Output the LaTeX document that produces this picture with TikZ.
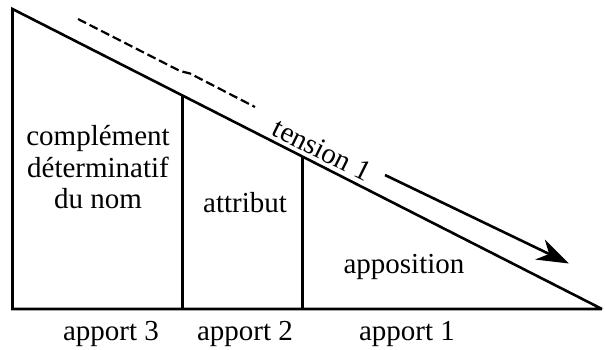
\documentclass[tikz,border=0pt]{standalone}
\usepackage{fontspec}
\setmainfont{Liberation Serif}
\usetikzlibrary{arrows.meta}
\begin{document}
\begin{tikzpicture}[x=0.5pt,y=-0.5pt,
  edge/.style={line width=1.3pt},
  lbl/.style={font=\fontsize{14.5}{15.75}\selectfont, inner sep=0pt, anchor=base}]
\useasboundingbox (0,0) rectangle (605,349);

% triangle corners
\coordinate (tl) at (12.5,9);
\coordinate (bl) at (12.5,309);
\coordinate (br) at (602,309);
\draw[edge, line join=miter] (br) -- (tl) -- (bl) -- (br);

% column dividers, from the base up to the slope
\coordinate (d1b) at (182.5,309);
\coordinate (d1t) at (182.5,95.5);
\coordinate (d2b) at (302.5,309);
\coordinate (d2t) at (302.5,156.6);
\draw[edge] (d1b) -- (d1t);
\draw[edge] (d2b) -- (d2t);

% dashed guide above the slope
\coordinate (g0) at (78,19);
\coordinate (g1) at (180,71);
\coordinate (g2) at (190,73.5);
\coordinate (g3) at (255,107);
\draw[line width=1.1pt, dash pattern=on 4.5pt off 2pt] (g0) -- (g1) -- (g2) -- (g3);

% tension arrow
\coordinate (a0) at (385,175);
\coordinate (a1) at (569,263.5);
\draw[edge, -{Stealth[length=16pt,width=11pt,inset=5pt]}] (a0) -- (a1);
\node[lbl, rotate=-26.5] (tens) at (318,158.5) {tension 1};

% region labels
\node[lbl] (c1) at (98,145) {complément};
\node[lbl] (c2) at (98,177) {déterminatif};
\node[lbl] (c3) at (98,208) {du nom};
\node[lbl] (attr) at (245,212) {attribut};
\node[lbl] (appo) at (404,273) {apposition};

% bottom labels
\node[lbl] (p3) at (111,340) {apport 3};
\node[lbl] (p2) at (245,340) {apport 2};
\node[lbl] (p1) at (407,340) {apport 1};
\end{tikzpicture}
\end{document}
